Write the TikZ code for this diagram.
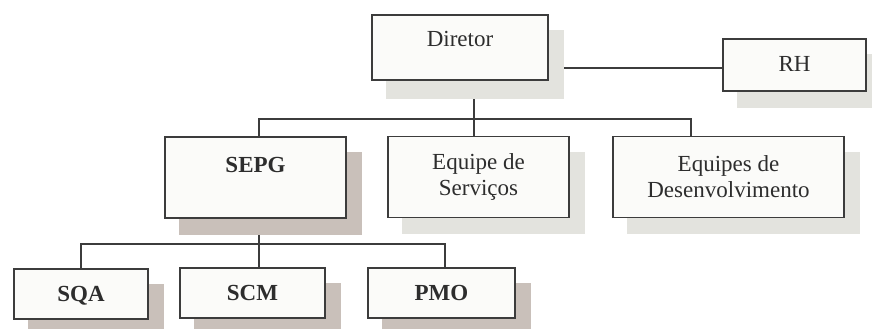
\documentclass[tikz,border=0pt]{standalone}
\usepackage{fontspec}
\setmainfont{Liberation Serif}
\usetikzlibrary{shadows,backgrounds}

\definecolor{boxline}{RGB}{60,60,60}
\definecolor{boxfill}{RGB}{251,251,249}
\definecolor{textgray}{RGB}{45,45,45}
\definecolor{greyshade}{RGB}{227,227,222}
\definecolor{taupeshade}{RGB}{201,192,186}

\begin{document}
\begin{tikzpicture}[x=1pt, y=-1pt]
        \tikzset{unit/.style = {shape=rectangle, draw=boxline, line width=1.9pt, fill=boxfill,
                     text=textgray, align=center, inner sep=2pt,
                     font=\fontsize{23}{26}\selectfont},
                 grey unit/.style = {unit, drop shadow={shadow xshift=15pt, shadow yshift=-16pt,
                     fill=greyshade, draw=greyshade, line width=1.9pt, opacity=1}},
                 taupe unit/.style = {unit, font=\fontsize{23}{26}\selectfont\bfseries,
                     drop shadow={shadow xshift=15pt, shadow yshift=-16pt,
                     fill=taupeshade, draw=taupeshade, line width=1.9pt, opacity=1}},
                 link/.style = {draw=boxline, line width=1.8pt}}

        \useasboundingbox (0, 0) rectangle (872, 329);

        \node[grey unit, minimum width=176pt, minimum height=65pt, text height=15pt, text depth=16pt,
              drop shadow={shadow xshift=15pt, shadow yshift=-18pt, fill=greyshade, draw=greyshade, line width=1.9pt, opacity=1}]
              (dir) at (460, 47.5) {Diretor};
        \node[grey unit, minimum width=143pt, minimum height=52pt, text height=15pt, text depth=3pt]
              (rh) at (794.5, 65) {RH};

        \node[taupe unit, minimum width=181pt, minimum height=81pt, text height=15pt, text depth=26pt]
              (sepg) at (255.5, 177.5) {SEPG};
        \node[grey unit, minimum width=181pt, minimum height=81pt] (serv) at (478.5, 177) {Equipe de\\Serviços};
        \node[grey unit, minimum width=231pt, minimum height=81pt] (desenv) at (728.5, 177) {Equipes de\\Desenvolvimento};

        \node[taupe unit, minimum width=134pt, minimum height=50pt, text height=15pt, text depth=0pt]
              (sqa) at (81, 294) {SQA};
        \node[taupe unit, minimum width=145pt, minimum height=50pt, text height=15pt, text depth=0pt]
              (scm) at (252.5, 293) {SCM};
        \node[taupe unit, minimum width=147pt, minimum height=50pt, text height=15pt, text depth=0pt]
              (pmo) at (441.5, 293) {PMO};

        \coordinate (topbus) at (474, 119);
        \coordinate (lowbus) at (259, 245);

        % connectors behind the boxes and their shadows
        \begin{pgfonlayer}{background}
            \draw[link] ([yshift=-3pt]rh.west) -- ([yshift=-3pt]rh.west -| dir.east);
            \draw[link] ([xshift=14pt]dir.south) -- (topbus);
            \draw[link] ([xshift=3.5pt]sepg.north) -- ++(0, -17) -| ([xshift=-37.5pt]desenv.north);
            \draw[link] ([xshift=-4.5pt]serv.north) -- (topbus);

            \draw[link] ([xshift=3.5pt]sepg.south) -- (lowbus);
            \draw[link] (sqa.north) -- ++(0, -24) -| ([xshift=3.5pt]pmo.north);
            \draw[link] ([xshift=6.5pt]scm.north) -- (lowbus);
        \end{pgfonlayer}

    \end{tikzpicture}
\end{document}
